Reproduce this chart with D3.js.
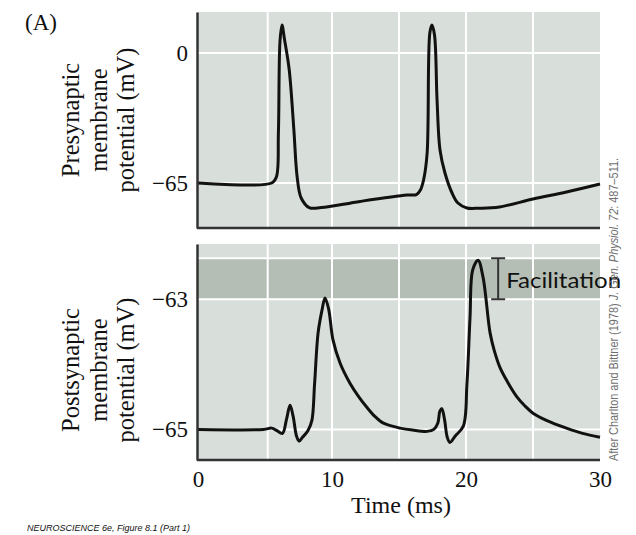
<!DOCTYPE html>
<html>
<head>
<meta charset="utf-8">
<script src="https://cdn.jsdelivr.net/npm/d3@7"></script>
<style>
  body { margin: 0; background: #fff; }
  svg { display: block; }
</style>
</head>
<body>
<div id="chart"></div>
<script>
var width = 636;
var height = 535;
var plotBg = '#d8dfdb';
var bandColor = '#b4beb5';
var serif = '"Liberation Serif", "Times New Roman", serif';

// time axis (ms)
var timeTicks = [0, 10, 20, 30];
var gridTimes = [5.2, 10, 15, 20, 25];

// presynaptic trace (mV)
var preTicks = [0, -65];
var preTime = [0, 5.5, 5.85, 6.0, 6.12, 6.27, 6.45, 6.8, 7.15, 7.4, 7.7, 8.3, 9.2, 12.1, 15.6, 16.3, 16.6, 16.85, 17.1, 17.3, 17.46, 17.65, 17.84, 18.06, 18.43, 18.96, 19.4, 20.07, 21.0, 22.5, 25, 27.5, 30];
var preMv   = [-65, -65, -62, -40, 6, 14, 7, -8, -38, -62, -72.5, -77.3, -77.3, -74.2, -71, -70.8, -68.5, -63, -50, 10, 14, 9, -23.5, -48.5, -60, -70, -75, -77.5, -77.6, -77, -73, -69.5, -65.5];

// postsynaptic trace (mV)
var postTicks = [-63, -65];
var postTime = [0, 4.9, 5.5, 5.9, 6.3, 6.6, 6.87, 7.1, 7.35, 7.54, 7.8, 8.2, 8.5, 8.7, 8.96, 9.25, 9.48, 9.75, 10.07, 10.6, 11.34, 12.0, 12.6, 13.2, 13.8, 14.5, 15.07, 16, 17.1, 17.6, 17.9, 18.05, 18.2, 18.4, 18.6, 18.8, 19.2, 19.8, 20.07, 20.3, 20.5, 20.9, 21.27, 21.8, 22.1, 22.54, 23.1, 23.8, 24.4, 25, 26, 27.5, 28.7, 30];
var postMv   = [-65, -65, -64.98, -65.02, -65.06, -64.85, -64.63, -64.8, -65.1, -65.18, -65.12, -65.02, -64.86, -64.3, -63.52, -63.17, -62.98, -63.15, -63.62, -63.98, -64.29, -64.5, -64.66, -64.8, -64.9, -64.95, -64.98, -65.01, -65.03, -65.0, -64.9, -64.72, -64.68, -64.85, -65.12, -65.2, -65.1, -64.95, -64.3, -63.28, -62.55, -62.4, -62.66, -63.52, -63.78, -64.05, -64.27, -64.5, -64.64, -64.75, -64.86, -64.98, -65.06, -65.12];

// facilitation band (mV) and bracket time
var facilitation = [-63, -62.37];
var bracketTime = 22.4;

var svg = d3.select('#chart')
  .append('svg')
  .attr('width', width)
  .attr('height', height);

var x = d3.scaleLinear().domain([0, 30]).range([198, 600]);
var plotLeft = 197, plotRight = 600;

var yPre = d3.scaleLinear().domain([-87.5, 20.5]).range([228, 12]);
var yPost = d3.scaleLinear().domain([-65.47, -62.15]).range([460, 244]);

function panel(y, gridVals, ticks, time, mv, labelLines, labelCenter, showX) {
  var g = svg.append('g');
  var y0 = y.range()[0], y1 = y.range()[1];

  g.append('rect')
    .attr('x', plotLeft).attr('y', y1)
    .attr('width', plotRight - plotLeft).attr('height', y0 - y1)
    .attr('fill', plotBg);

  if (showX) {
    // facilitation band
    g.append('rect')
      .attr('x', plotLeft).attr('y', y(facilitation[1]))
      .attr('width', plotRight - plotLeft)
      .attr('height', y(facilitation[0]) - y(facilitation[1]))
      .attr('fill', bandColor);
  }

  // grid
  g.selectAll('.vg').data(gridTimes).enter().append('line')
    .attr('x1', d => x(d)).attr('x2', d => x(d))
    .attr('y1', y1).attr('y2', y0)
    .attr('stroke', '#fff').attr('stroke-width', 2);
  g.selectAll('.hg').data(gridVals).enter().append('line')
    .attr('x1', plotLeft).attr('x2', plotRight)
    .attr('y1', d => y(d)).attr('y2', d => y(d))
    .attr('stroke', '#fff').attr('stroke-width', 2);

  // trace
  var pts = time.map((t, i) => [t, mv[i]]);
  var line = d3.line()
    .x(d => x(d[0]))
    .y(d => y(d[1]))
    .curve(d3.curveCatmullRom.alpha(0.5));
  g.append('path')
    .datum(pts)
    .attr('d', line)
    .attr('fill', 'none')
    .attr('stroke', '#111')
    .attr('stroke-width', 3)
    .attr('stroke-linejoin', 'round');

  // y axis
  var yAxis = d3.axisLeft(y).tickValues(ticks).tickSize(0).tickPadding(9)
    .tickFormat(d => d < 0 ? '\u2212' + Math.abs(d) : d);
  var ya = g.append('g').attr('transform', `translate(${plotLeft},0)`).call(yAxis);
  ya.select('.domain').attr('stroke', '#333').attr('stroke-width', 2.5);
  ya.selectAll('text').attr('font-family', serif).attr('font-size', 23).attr('fill', '#111');

  // x axis line
  var xAxis = d3.axisBottom(x).tickValues(showX ? timeTicks : []).tickSize(0).tickPadding(11)
    .tickSizeOuter(0);
  var xa = g.append('g').attr('transform', `translate(0,${y0})`).call(xAxis);
  xa.select('.domain').attr('stroke', '#333').attr('stroke-width', 2.5)
    .attr('d', `M${plotLeft},0H${plotRight}`);
  xa.selectAll('text').attr('font-family', serif).attr('font-size', 23).attr('fill', '#111');

  // label
  var cols = [79, 107, 134];
  labelLines.forEach((t, i) => {
    svg.append('text')
      .attr('transform', `translate(${cols[i]},${labelCenter}) rotate(-90)`)
      .attr('text-anchor', 'middle')
      .attr('font-family', serif)
      .attr('font-size', 24.5)
      .attr('fill', '#111')
      .text(t);
  });
}

panel(yPre, [0, -65], preTicks, preTime, preMv, ['Presynaptic', 'membrane', 'potential (mV)'], 120, false);
panel(yPost, [facilitation[1], -63, -65], postTicks, postTime, postMv, ['Postsynaptic', 'membrane', 'potential (mV)'], 370, true);

// facilitation bracket
var bx = x(bracketTime);
var bt = yPost(facilitation[1]), bb = yPost(facilitation[0]);
svg.append('path')
  .attr('d', `M${bx - 7},${bt}H${bx + 7}M${bx},${bt}V${bb}M${bx - 7},${bb}H${bx + 7}`)
  .attr('stroke', '#333').attr('stroke-width', 2).attr('fill', 'none');
svg.append('text')
  .attr('x', bx + 8).attr('y', 288)
  .attr('font-family', 'Lato, "Open Sans", sans-serif')
  .attr('font-size', 22)
  .attr('textLength', 115)
  .attr('lengthAdjust', 'spacingAndGlyphs')
  .attr('fill', '#111')
  .text('Facilitation');

// x title
svg.append('text')
  .attr('x', 401).attr('y', 513)
  .attr('text-anchor', 'middle')
  .attr('font-family', serif)
  .attr('font-size', 24)
  .attr('fill', '#111')
  .text('Time (ms)');

// panel letter
svg.append('text')
  .attr('x', 25).attr('y', 30)
  .attr('font-family', serif)
  .attr('font-size', 23)
  .attr('fill', '#111')
  .text('(A)');

// credit
var credit = svg.append('text')
  .attr('transform', 'translate(618,461) rotate(-90)')
  .attr('font-family', '"Liberation Sans", sans-serif')
  .attr('font-size', 13)
  .attr('textLength', 303)
  .attr('lengthAdjust', 'spacingAndGlyphs')
  .attr('fill', '#6f6f6f');
credit.append('tspan').text('After Charlton and Bittner (1978) ');
credit.append('tspan').attr('font-style', 'italic').text('J. Gen. Physiol. 72');
credit.append('tspan').text(': 487\u2013511.');

// footer
svg.append('text')
  .attr('x', 27).attr('y', 531)
  .attr('font-family', '"Liberation Sans", sans-serif')
  .attr('font-style', 'italic')
  .attr('font-size', 9)
  .attr('fill', '#111')
  .text('NEUROSCIENCE 6e, Figure 8.1 (Part 1)');
</script>
</body>
</html>
